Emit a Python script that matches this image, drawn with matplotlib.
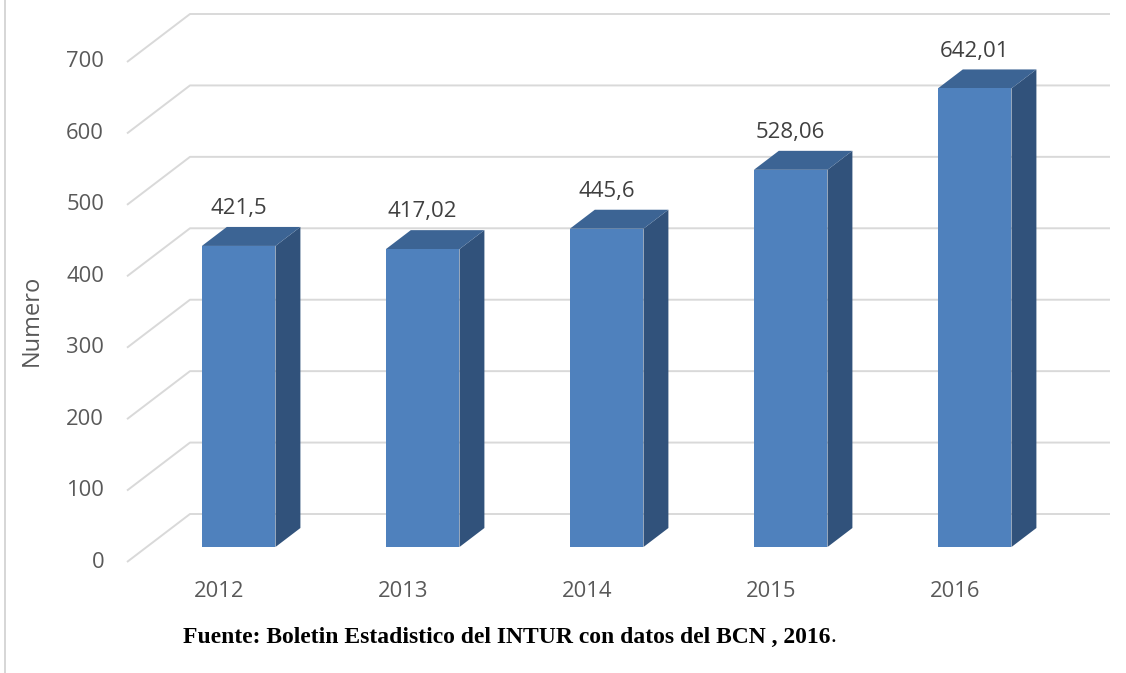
import matplotlib
matplotlib.use("Agg")
import matplotlib.pyplot as plt
from matplotlib.patches import Polygon
from matplotlib.lines import Line2D

# ---- data ----
years = ["2012", "2013", "2014", "2015", "2016"]
values = [421.5, 417.02, 445.6, 528.06, 642.01]
value_labels = ["421,5", "417,02", "445,6", "528,06", "642,01"]
yticks = [0, 100, 200, 300, 400, 500, 600, 700]
ylabel = "Numero"
caption = "Fuente: Boletin Estadistico del INTUR con datos del BCN , 2016"

# ---- layout (pixel geometry of the pseudo-3D projection) ----
W, H = 1126, 673
PX_CAT = 184.0          # pixels per category
X0_PX = 219.0           # pixel x of category 0 at depth 0
PX_VAL = 500.0 / 700.0  # pixels per value unit
Y0_PX = 562.0           # pixel y of value 0 at depth 0
DEPTH_PX = (63.0, 48.0) # screen offset for full depth
DX = DEPTH_PX[0] / PX_CAT
DY = DEPTH_PX[1] / PX_VAL
D0, D1 = 0.3125, 0.708  # bar depth range
HALF_W = 0.2

FRONT = "#4F81BD"
TOP = "#3C6494"
SIDE = "#31527B"
GRID = "#D9D9D9"
TXT = "#595959"
FONT = "Open Sans"

fig = plt.figure(figsize=(W / 100, H / 100), dpi=100)
ax = fig.add_axes([0, 0, 1, 1])
ax.set_xlim((0 - X0_PX) / PX_CAT, (W - X0_PX) / PX_CAT)
ax.set_ylim((Y0_PX - H) / PX_VAL, Y0_PX / PX_VAL)
ax.axis("off")


def proj(x, v, d):
    return (x + d * DX, v + d * DY)


n = len(years)
xl, xr = -0.5, n - 0.5

# gridlines: left wall diagonals + back wall horizontals
for t in yticks:
    p0 = proj(xl, t, 0)
    p1 = proj(xl, t, 1)
    p2 = proj(xr, t, 1)
    ax.plot([p0[0], p1[0], p2[0]], [p0[1], p1[1], p2[1]],
            color=GRID, lw=1.4, zorder=1, solid_capstyle="butt")
    ax.text(xl - 0.125, t, str(t), ha="right", va="center",
            fontsize=15.8, color=TXT, family=FONT)

# bars
for i, v in enumerate(values):
    xa, xb = i - HALF_W, i + HALF_W
    front = [proj(xa, 0, D0), proj(xb, 0, D0), proj(xb, v, D0), proj(xa, v, D0)]
    side = [proj(xb, 0, D0), proj(xb, 0, D1), proj(xb, v, D1), proj(xb, v, D0)]
    top = [proj(xa, v, D0), proj(xb, v, D0), proj(xb, v, D1), proj(xa, v, D1)]
    ax.add_patch(Polygon(side, closed=True, fc=SIDE, ec="none", zorder=2))
    ax.add_patch(Polygon(top, closed=True, fc=TOP, ec="none", zorder=2))
    ax.add_patch(Polygon(front, closed=True, fc=FRONT, ec="none", zorder=3))
    lx, ly = proj(i, v, D0)
    ax.text(lx, ly + 52, value_labels[i], ha="center", va="center",
            fontsize=16, color="#404040", family=FONT)
    ax.text(i, -41, years[i], ha="center", va="center",
            fontsize=15.8, color=TXT, family=FONT)

fig.text(32 / W, 1 - 320 / H, ylabel, rotation=90, ha="center", va="center",
         fontsize=17, color=TXT, family=FONT)

cap = fig.text(507 / W, 1 - 637 / H, caption, ha="center", va="center",
               fontsize=17, fontweight="bold", color="black",
               family="Liberation Serif")
ax.annotate(".", xy=(1, 0), xycoords=cap, xytext=(0, 0), textcoords="offset points",
            ha="left", va="bottom", fontsize=17, color="black",
            family="Liberation Serif")

# left border line
fig.add_artist(Line2D([5 / W, 5 / W], [0, 1], color="#D0D0D0", lw=1.2))

fig.savefig("out.png", dpi=100)
